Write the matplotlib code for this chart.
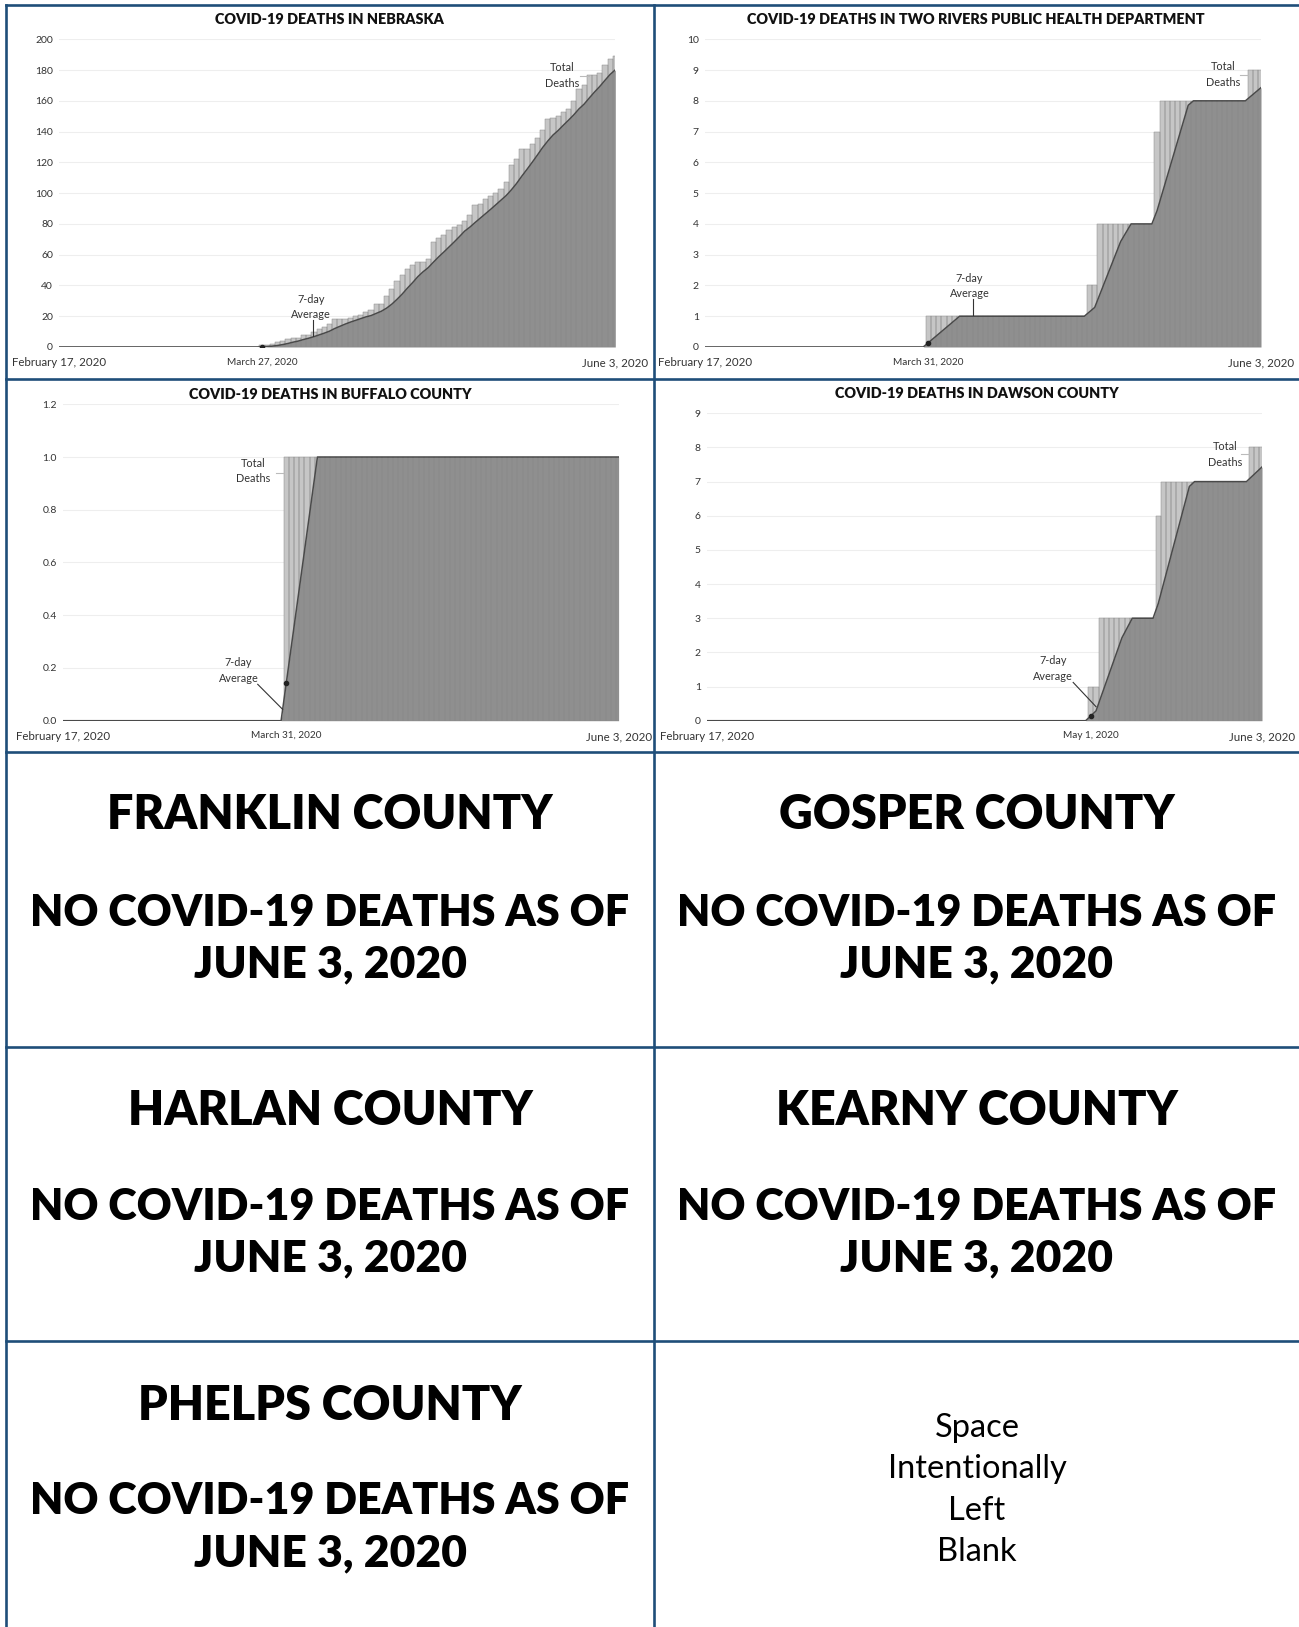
import numpy as np
import pandas as pd
import matplotlib
matplotlib.use("Agg")
import matplotlib.pyplot as plt
from matplotlib.lines import Line2D

plt.rcParams['font.family'] = ['Lato', 'DejaVu Sans']

# days counted from February 17, 2020 (day 0) to June 3, 2020 (day 107)
n_days = 108

# Nebraska cumulative deaths, from March 27 (day 39) to June 3
ne_start = 39
ne_totals = [1, 1, 2, 3, 4, 5, 6, 6, 8, 8,
             10, 12, 13, 15, 18, 18, 18, 19, 20, 21,
             23, 24, 28, 28, 33, 38, 43, 47, 51, 53,
             55, 55, 57, 68, 71, 73, 76, 78, 79, 82,
             86, 92, 93, 96, 98, 100, 103, 107, 118, 122,
             129, 129, 132, 136, 141, 148, 149, 150, 153, 155,
             160, 168, 170, 177, 177, 178, 183, 187, 189]

# county series as (level, number of days at that level)
tr_levels = [0, 1, 2, 4, 7, 8, 9]
tr_days = [43, 31, 2, 11, 1, 17, 3]
bf_levels = [0, 1]
bf_days = [43, 65]
dw_levels = [0, 1, 3, 6, 7, 8]
dw_days = [74, 2, 11, 1, 17, 3]

ne = np.concatenate([np.zeros(ne_start), ne_totals])
tr = np.repeat(tr_levels, tr_days).astype(float)
bf = np.repeat(bf_levels, bf_days).astype(float)
dw = np.repeat(dw_levels, dw_days).astype(float)

W, H = 1299, 1627
fig = plt.figure(figsize=(W / 100, H / 100), dpi=100)
fig.patch.set_facecolor('white')

BLUE = '#1f4e79'
TXT = '#333333'


def px_axes(l, t, r, b):
    return fig.add_axes([l / W, 1 - b / H, (r - l) / W, (b - t) / H])


def draw_panel(box, vals, ymax, yticks, yfmt, mid_day, mid_label, title, title_xy,
               total_txt, total_lead, avg_txt, avg_lead):
    ax = px_axes(*box)
    days = np.arange(n_days)
    avg = pd.Series(vals).rolling(7, min_periods=1).mean().values
    ax.bar(days, vals, width=1.0, color='#c6c6c6', edgecolor='none', zorder=2)
    ax.fill_between(days, 0, avg, color='#8f8f8f', lw=0, zorder=3)
    ax.bar(days, vals, width=1.0, facecolor='none', edgecolor='#8a8a8a', lw=0.35, zorder=4)
    ax.plot(days, avg, color='#4a4a4a', lw=1.1, zorder=5)
    first = int(np.argmax(vals > 0))
    ax.plot([first], [avg[first]], 'o', color='#222222', ms=3, zorder=6)
    ax.set_xlim(0, n_days - 1)
    ax.set_ylim(0, ymax)
    ax.set_yticks(yticks)
    ax.set_yticklabels([yfmt.format(v) for v in yticks])
    ax.set_xticks([0, mid_day, n_days - 1])
    ax.set_xticklabels(['February 17, 2020', mid_label, 'June 3, 2020'])
    ax.tick_params(axis='y', length=0, pad=4.5, labelsize=7.5, labelcolor=TXT)
    ax.tick_params(axis='x', length=0, pad=7.5, labelsize=8.3, labelcolor=TXT)
    ax.get_xticklabels()[1].set_fontsize(7.2)
    ax.grid(axis='y', color='#eeeeee', lw=0.8, zorder=0)
    ax.set_axisbelow(True)
    for s in ax.spines.values():
        s.set_visible(False)
    ax.axhline(0, color='#9a9a9a', lw=1.0, zorder=1)
    # annotations
    ax.text(total_txt[0], total_txt[1], 'Total\nDeaths', ha='center', va='center',
            fontsize=7.8, color=TXT, linespacing=1.5, zorder=7)
    ax.plot(total_lead[0], total_lead[1], color='#bbbbbb', lw=0.8, zorder=7)
    ax.text(avg_txt[0], avg_txt[1], '7-day\nAverage', ha='center', va='center',
            fontsize=7.8, color=TXT, linespacing=1.5, zorder=7)
    ax.plot(avg_lead[0], avg_lead[1], color='#333333', lw=0.8, zorder=7)
    fig.text(title_xy[0] / W, 1 - title_xy[1] / H, title, ha='center', va='center',
             fontsize=10.4, fontweight='heavy', color='#111111')
    return ax


draw_panel((59.3, 39.3, 615.3, 347), ne, 200, list(range(0, 201, 20)), '{:d}',
           39, 'March 27, 2020', 'COVID-19 DEATHS IN NEBRASKA', (329.6, 20),
           (96.8, 176.5), ([100.2, 101.9], [176, 176]),
           (48.4, 26), ([48.8, 48.8], [17.5, 7]))

draw_panel((705, 39.3, 1261, 347), tr, 10, list(range(0, 11)), '{:d}',
           43, 'March 31, 2020', 'COVID-19 DEATHS IN TWO RIVERS PUBLIC HEALTH DEPARTMENT',
           (976, 20),
           (99.8, 8.85), ([102.9, 104.5], [8.84, 8.84]),
           (50.9, 1.98), ([51.6, 51.6], [1.56, 1.04]))

draw_panel((63, 404.3, 618.6, 720.7), bf, 1.2, [0, 0.2, 0.4, 0.6, 0.8, 1.0, 1.2], '{:.1f}',
           43, 'March 31, 2020', 'COVID-19 DEATHS IN BUFFALO COUNTY', (330, 394.3),
           (36.6, 0.947), ([41.1, 42.4], [0.94, 0.94]),
           (33.8, 0.19), ([37.5, 42.3], [0.138, 0.043]))

draw_panel((707, 413.3, 1262, 720.7), dw, 9, list(range(0, 10)), '{:d}',
           74, 'May 1, 2020', 'COVID-19 DEATHS IN DAWSON COUNTY', (977, 394),
           (99.8, 7.8), ([103.0, 104.5], [7.8, 7.8]),
           (66.7, 1.53), ([70.6, 75.0], [1.12, 0.41]))

# text panels
no_deaths = 'NO COVID-19 DEATHS AS OF'
as_of = 'JUNE 3, 2020'
panels = [('FRANKLIN COUNTY', 330, (815, 913, 964)),
          ('GOSPER COUNTY', 977, (815, 913, 964)),
          ('HARLAN COUNTY', 330, (1111, 1206.5, 1258.4)),
          ('KEARNY COUNTY', 977, (1111, 1206.5, 1258.4)),
          ('PHELPS COUNTY', 330, (1405.7, 1501, 1553))]
sizes = [33.7, 31, 32]
for name, cx, ys in panels:
    for txt, y, fs in zip([name, no_deaths, as_of], ys, sizes):
        fig.text(cx / W, 1 - y / H, txt, ha='center', va='center',
                 fontsize=fs, fontweight='heavy', color='black')

fig.text(977 / W, 1 - 1490 / H, 'Space\nIntentionally\nLeft\nBlank', ha='center',
         va='center', fontsize=23.5, color='black', linespacing=1.46)

# table borders
def hline(y, x0=6, x1=W):
    fig.add_artist(Line2D([x0 / W, x1 / W], [1 - y / H, 1 - y / H], color=BLUE, lw=1.9))


def vline(x, y0=5, y1=H):
    fig.add_artist(Line2D([x / W, x / W], [1 - y0 / H, 1 - y1 / H], color=BLUE, lw=1.9))


for y in [5, 379, 752, 1047, 1341]:
    hline(y)
vline(6)
vline(654)

fig.savefig('out.png', dpi=100, facecolor='white')
